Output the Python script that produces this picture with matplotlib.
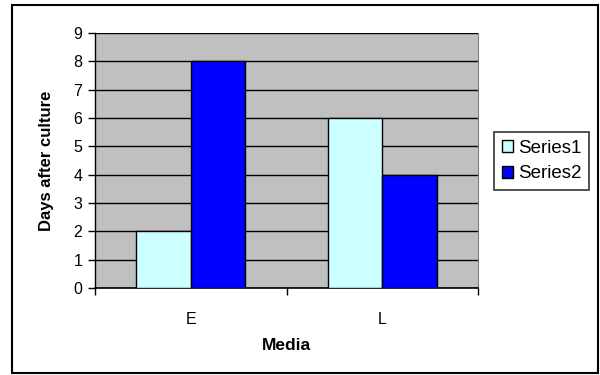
import matplotlib
matplotlib.use("Agg")
import matplotlib.pyplot as plt
import numpy as np
from matplotlib.patches import Rectangle

categories = ["E", "L"]
series_names = ["Series1", "Series2"]
series1 = [2, 6]
series2 = [8, 4]
yticks = list(range(0, 10))

plt.rcParams['font.family'] = ['Liberation Sans', 'DejaVu Sans']

W, H = 600, 375
fig = plt.figure(figsize=(6, 3.75), dpi=100)
# outer border
fig.patches.append(Rectangle((12 / W, 1 - 373 / H), (598 - 12) / W, (373 - 5) / H,
                             transform=fig.transFigure, fill=False, edgecolor='black',
                             linewidth=1.5, zorder=0))

l, r, t, b = 95, 478, 33, 288
ax = fig.add_axes([l / W, 1 - b / H, (r - l) / W, (b - t) / H])
ax.set_facecolor('#C0C0C0')

x = np.arange(len(categories))
bw = 1 / 3.5
ax.bar(x - bw / 2, series1, width=bw, color='#CCFFFF', edgecolor='black', linewidth=1,
       label=series_names[0], zorder=3)
ax.bar(x + bw / 2, series2, width=bw, color='#0000FF', edgecolor='black', linewidth=1,
       label=series_names[1], zorder=3)

ax.set_xlim(-0.5, len(categories) - 0.5)
ax.set_ylim(0, 9)
ax.set_yticks(yticks)
ax.yaxis.grid(True, color='black', linewidth=1, zorder=1)
ax.set_axisbelow(True)

ax.set_xticks(x)
ax.set_xticklabels(categories, fontsize=11.5)
ax.tick_params(axis='x', length=0, pad=17)
ax.set_xticks(np.arange(-0.5, len(categories)), minor=True)
ax.tick_params(axis='x', which='minor', length=5, width=1, direction='out')
ax.tick_params(axis='y', length=5, width=1, direction='out', labelsize=11.5, pad=4)

ax.spines['top'].set_visible(False)
ax.spines['right'].set_color('#808080')
ax.spines['left'].set_color('black')
ax.spines['bottom'].set_color('black')
ax.spines['left'].set_linewidth(1)
ax.spines['bottom'].set_linewidth(1.2)

ax.set_xlabel("Media", fontsize=12.5, fontweight='bold', labelpad=8)
ax.set_ylabel("Days after culture", fontsize=12, fontweight='bold', labelpad=14)

leg = ax.legend(loc='center left', bbox_to_anchor=(494 / W, 1 - 161 / H),
                bbox_transform=fig.transFigure, fontsize=13.5, frameon=True, fancybox=False,
                edgecolor='black', handlelength=0.6, handleheight=0.6, handletextpad=0.3,
                borderpad=0.4, labelspacing=0.45, borderaxespad=0)
leg.get_frame().set_linewidth(1.2)

fig.savefig("out.png", dpi=100)
